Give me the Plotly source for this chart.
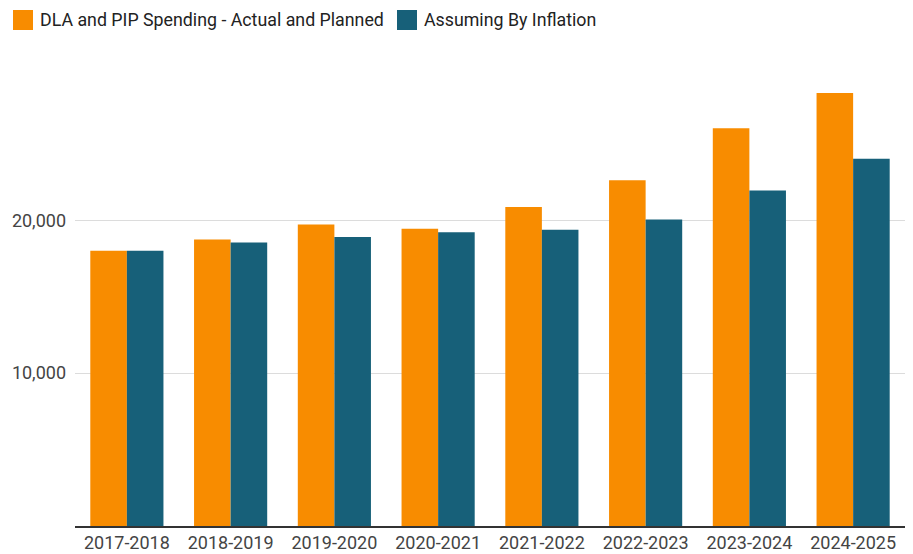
import plotly.graph_objects as go

# financial years
years = ["2017-2018", "2018-2019", "2019-2020", "2020-2021",
         "2021-2022", "2022-2023", "2023-2024", "2024-2025"]

# DLA + PIP spending, actual and planned
actual_planned = [18000, 18740, 19720, 19450, 20870, 22610, 26010, 28320]

# same spending if it only grew with inflation
by_inflation = [18000, 18540, 18910, 19220, 19370, 20050, 21940, 24030]

names = ["DLA and PIP Spending - Actual and Planned", "Assuming By Inflation"]
colors = ["#F88C00", "#176079"]

# the page body has an 8px margin, so the figure is a bit smaller than the window
W, H = 905, 546
L, R, T, B = 67, 8, 67, 28
PW, PH = W - L - R, H - T - B


def px(x):  # page pixel -> paper x
    return (x - 8 - L) / PW


def py(y):  # page pixel -> paper y
    return 1 + (T - (y - 8)) / PH


fig = go.Figure()

fig.add_trace(go.Bar(x=years, y=actual_planned, name=names[0],
                     marker=dict(color=colors[0], line=dict(width=0))))
fig.add_trace(go.Bar(x=years, y=by_inflation, name=names[1],
                     marker=dict(color=colors[1], line=dict(width=0))))

# google-sheets style legend: big square swatches at top left
swatch_x = [13, 397]
for name, col, x0 in zip(names, colors, swatch_x):
    fig.add_shape(type="rect", xref="paper", yref="paper",
                  x0=px(x0), x1=px(x0 + 20), y0=py(30), y1=py(10),
                  fillcolor=col, line=dict(width=0), layer="above")
    fig.add_annotation(text=name, xref="paper", yref="paper",
                       x=px(x0 + 25), y=py(20),
                       xanchor="left", yanchor="middle", showarrow=False,
                       font=dict(size=17.8, color="#222222"))

fig.update_layout(
    width=W, height=H,
    margin=dict(l=L, r=R, t=T, b=B),
    paper_bgcolor="white", plot_bgcolor="white",
    font=dict(family="Roboto", size=18, color="#222222"),
    barmode="group",
    bargap=0.295, bargroupgap=0,
    showlegend=False,
    xaxis=dict(showline=True, linecolor="#333333", linewidth=1.5,
               ticks="", tickfont=dict(size=18, color="#444444"),
               showgrid=False, automargin=False),
    yaxis=dict(range=[0, 29500], tickvals=[10000, 20000],
               ticktext=["10,000", "20,000"],
               tickfont=dict(size=18, color="#444444"),
               ticklabelstandoff=8,
               showgrid=True, gridcolor="#dcdcdc", gridwidth=1,
               zeroline=False, ticks="", automargin=False),
)

fig.write_html("out.html")
